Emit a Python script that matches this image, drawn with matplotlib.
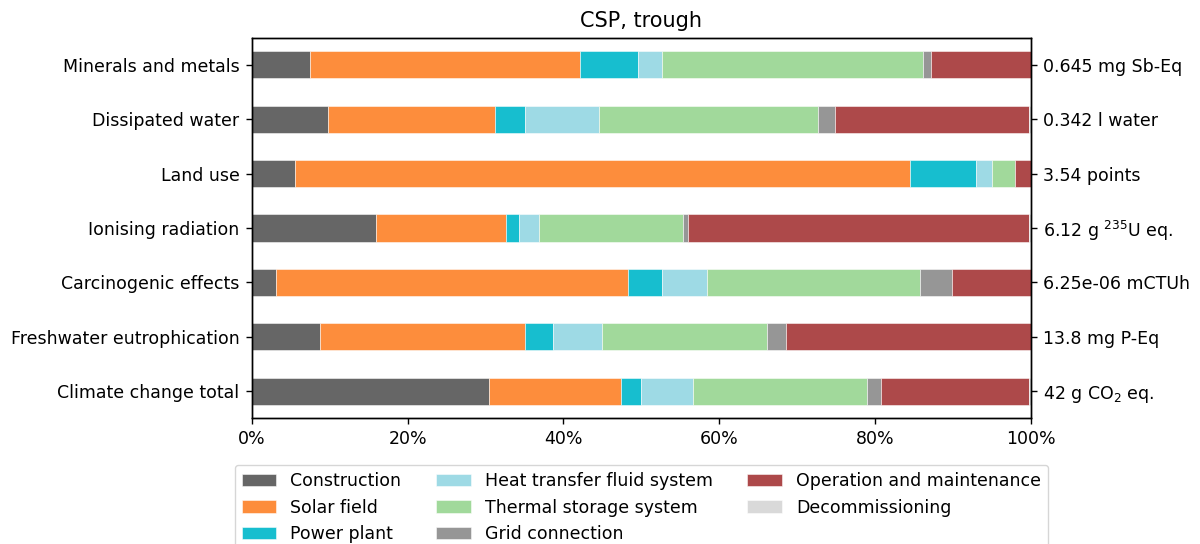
import matplotlib
matplotlib.use("Agg")
import matplotlib.pyplot as plt
import numpy as np

# impact categories, listed bottom to top
categories = ["Climate change total", "Freshwater eutrophication", "Carcinogenic effects",
              "Ionising radiation", "Land use", "Dissipated water", "Minerals and metals"]
totals = [r"42 g CO$_2$ eq.", "13.8 mg P-Eq", "6.25e-06 mCTUh",
          r"6.12 g $^{235}$U eq.", "3.54 points", "0.342 l water", "0.645 mg Sb-Eq"]

components = ["Construction", "Solar field", "Power plant", "Heat transfer fluid system",
              "Thermal storage system", "Grid connection", "Operation and maintenance",
              "Decommissioning"]
colors = ["#666666", "#fd8d3c", "#17becf", "#9edae5", "#a1d99b", "#969696", "#ad494a", "#d9d9d9"]

# share (%) of each component, same order as categories
construction = [30.4, 8.8, 3.1, 15.9, 5.5, 9.8, 7.5]
solar_field = [17.0, 26.2, 45.2, 16.7, 79.0, 21.4, 34.6]
power_plant = [2.6, 3.6, 4.4, 1.7, 8.4, 3.8, 7.5]
htf_system = [6.6, 6.3, 5.7, 2.6, 2.1, 9.5, 3.1]
thermal_storage = [22.3, 21.2, 27.4, 18.4, 2.9, 28.2, 33.4]
grid_connection = [1.9, 2.4, 4.1, 0.7, 0.05, 2.1, 1.1]
operation = [18.9, 31.5, 10.1, 43.8, 2.05, 25.0, 12.8]
decommissioning = [0.3, 0.0, 0.0, 0.2, 0.0, 0.2, 0.0]

shares = [construction, solar_field, power_plant, htf_system, thermal_storage,
          grid_connection, operation, decommissioning]

# the original looks like a 10pt figure saved at 125 dpi
s = 1.25
plt.rcParams.update({
    "font.size": 10 * s,
    "axes.linewidth": 0.8 * s,
    "xtick.major.size": 3.5 * s,
    "ytick.major.size": 3.5 * s,
    "xtick.major.width": 0.8 * s,
    "ytick.major.width": 0.8 * s,
    "xtick.major.pad": 3.5 * s,
    "ytick.major.pad": 3.5 * s,
})

fig = plt.figure(figsize=(12, 5.44), dpi=100)
ax = fig.add_axes([0.2098, 0.2311, 0.6494, 0.6996])

y = np.arange(len(categories))
left = np.zeros(len(categories))
for name, vals, col in zip(components, shares, colors):
    vals = np.array(vals)
    ax.barh(y, vals, left=left, height=0.5, color=col, label=name,
            edgecolor=(1, 1, 1, 0.6), linewidth=0.6)
    left += vals

ax.set_xlim(0, 100)
ax.set_ylim(-0.5, len(categories) - 0.5)
ax.set_yticks(y)
ax.set_yticklabels(categories)
ax.set_xticks([0, 20, 40, 60, 80, 100])
ax.set_xticklabels(["0%", "20%", "40%", "60%", "80%", "100%"])
ax.set_title("CSP, trough", fontsize=12 * s, pad=6 * s)

ax2 = ax.twinx()
ax2.set_ylim(ax.get_ylim())
ax2.set_yticks(y)
ax2.set_yticklabels(totals)

ax.legend(loc="upper center", bbox_to_anchor=(0.5, -0.10), ncol=3,
          borderaxespad=0.5, handlelength=2.0, columnspacing=2.0)

fig.savefig("out.png", dpi=100)
